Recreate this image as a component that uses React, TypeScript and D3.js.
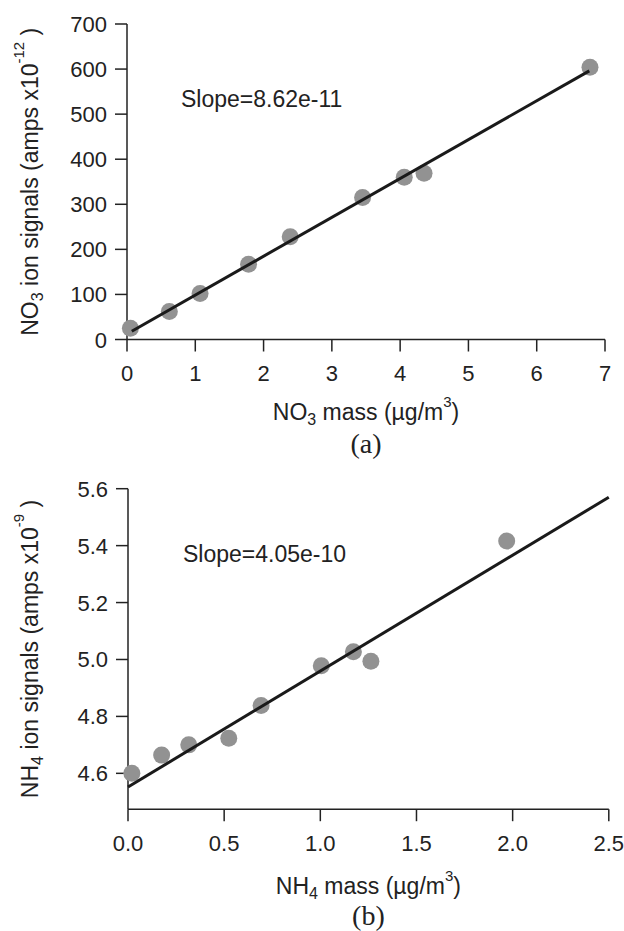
import React from "react";
import * as d3 from "d3";

// ---- Data ----
const no3Mass = [0.05, 0.62, 1.07, 1.78, 2.39, 3.45, 4.06, 4.35, 6.78];
const no3Signal = [25, 62, 102, 167, 228, 315, 360, 369, 604];
const no3FitX = [0.07, 6.77];
const no3FitY = [18.4, 596];
const no3XTicks = [0, 1, 2, 3, 4, 5, 6, 7];
const no3YTicks = [0, 100, 200, 300, 400, 500, 600, 700];
const no3Slope = "Slope=8.62e-11";

const nh4Mass = [0.02, 0.175, 0.316, 0.524, 0.692, 1.005, 1.172, 1.263, 1.969];
const nh4Signal = [4.6, 4.664, 4.7, 4.723, 4.838, 4.978, 5.027, 4.994, 5.416];
const nh4FitX = [0, 2.5];
const nh4FitY = [4.552, 5.57];
const nh4XTicks = [0, 0.5, 1.0, 1.5, 2.0, 2.5];
const nh4YTicks = [4.6, 4.8, 5.0, 5.2, 5.4, 5.6];
const nh4Slope = "Slope=4.05e-10";

const SANS = "'Liberation Sans', Arial, Helvetica, sans-serif";
const SERIF = "'Liberation Serif', 'Times New Roman', serif";
const AXIS = "#222";
const DOT = "#929292";

type PanelProps = {
  xs: number[];
  ys: number[];
  fitX: number[];
  fitY: number[];
  xTicks: number[];
  yTicks: number[];
  xDomain: [number, number];
  yDomain: [number, number];
  xRange: [number, number];
  yRange: [number, number];
  xFmt: (v: number) => string;
  yFmt: (v: number) => string;
  slope: string;
  slopePos: [number, number];
  ion: string;
  sup: string;
  xLabelY: number;
  panel: string;
  panelY: number;
  yLabelX: number;
};

function Panel(p: PanelProps) {
  const x = d3.scaleLinear().domain(p.xDomain).range(p.xRange);
  const y = d3.scaleLinear().domain(p.yDomain).range(p.yRange);
  const line = d3
    .line<number>()
    .x((_, i) => x(p.fitX[i]))
    .y((d) => y(d));
  const x0 = p.xRange[0];
  const y0 = p.yRange[0];
  const tick = 12;
  const yMid = (p.yRange[0] + p.yRange[1]) / 2;
  const xMid = (p.xRange[0] + p.xRange[1]) / 2;
  return (
    <g>
      {/* axes */}
      <line x1={x0} x2={x0} y1={p.yRange[1]} y2={y0} stroke={AXIS} strokeWidth={1.5} />
      <line x1={x0} x2={p.xRange[1]} y1={y0} y2={y0} stroke={AXIS} strokeWidth={1.5} />
      {p.yTicks.map((t) => (
        <g key={"y" + t}>
          <line x1={x0 - tick} x2={x0} y1={y(t)} y2={y(t)} stroke={AXIS} strokeWidth={1.5} />
          <text
            x={x0 - tick - 8}
            y={y(t) + 8}
            textAnchor="end"
            fontFamily={SANS}
            fontSize={22}
            fill="#222"
          >
            {p.yFmt(t)}
          </text>
        </g>
      ))}
      {p.xTicks.map((t) => (
        <g key={"x" + t}>
          <line x1={x(t)} x2={x(t)} y1={y0} y2={y0 + tick} stroke={AXIS} strokeWidth={1.5} />
          <text
            x={x(t)}
            y={y0 + 41.5}
            textAnchor="middle"
            fontFamily={SANS}
            fontSize={22}
            fill="#222"
          >
            {p.xFmt(t)}
          </text>
        </g>
      ))}
      {/* points */}
      {p.xs.map((v, i) => (
        <circle key={"c" + i} cx={x(v)} cy={y(p.ys[i])} r={8.5} fill={DOT} />
      ))}
      {/* fit line */}
      <path d={line(p.fitY) || ""} fill="none" stroke="#1a1a1a" strokeWidth={3} />
      {/* slope text */}
      <text x={p.slopePos[0]} y={p.slopePos[1]} fontFamily={SANS} fontSize={23} fill="#222">
        {p.slope}
      </text>
      {/* x label */}
      <text x={xMid} y={p.xLabelY} textAnchor="middle" fontFamily={SANS} fontSize={23} fill="#222">
        {p.ion}
        <tspan fontSize={16} dy={5}>
          {p.ion === "NO" ? "3" : "4"}
        </tspan>
        <tspan dy={-5}>{" mass (µg/m"}</tspan>
        <tspan fontSize={15} dy={-13}>
          3
        </tspan>
        <tspan dy={13}>)</tspan>
      </text>
      <text x={xMid} y={p.panelY} textAnchor="middle" fontFamily={SERIF} fontSize={28} fill="#222">
        {p.panel}
      </text>
      {/* y label */}
      <text
        transform={`translate(${p.yLabelX},${yMid}) rotate(-90)`}
        textAnchor="middle"
        fontFamily={SANS}
        fontSize={23}
        fill="#222"
      >
        {p.ion}
        <tspan fontSize={16} dy={5}>
          {p.ion === "NO" ? "3" : "4"}
        </tspan>
        <tspan dy={-5}>{" ion signals (amps x10"}</tspan>
        <tspan fontSize={15} dy={-14}>
          {p.sup}
        </tspan>
        <tspan dy={14}>{"  )"}</tspan>
      </text>
    </g>
  );
}

export default function App() {
  return (
    <svg
      width={624}
      height={931}
      style={{ position: "absolute", left: 0, top: 0, background: "#fff" }}
    >
      <rect width={624} height={931} fill="#fff" />
      <Panel
        xs={no3Mass}
        ys={no3Signal}
        fitX={no3FitX}
        fitY={no3FitY}
        xTicks={no3XTicks}
        yTicks={no3YTicks}
        xDomain={[0, 7]}
        yDomain={[0, 700]}
        xRange={[127, 605]}
        yRange={[339.5, 24]}
        xFmt={(v) => d3.format("d")(v)}
        yFmt={(v) => d3.format("d")(v)}
        slope={no3Slope}
        slopePos={[181, 106.5]}
        ion="NO"
        sup="-12"
        xLabelY={420}
        panel="(a)"
        panelY={453}
        yLabelX={38}
      />
      <Panel
        xs={nh4Mass}
        ys={nh4Signal}
        fitX={nh4FitX}
        fitY={nh4FitY}
        xTicks={nh4XTicks}
        yTicks={nh4YTicks}
        xDomain={[0, 2.5]}
        yDomain={[4.474, 5.6]}
        xRange={[128, 608.8]}
        yRange={[809.2, 488.7]}
        xFmt={(v) => d3.format(".1f")(v)}
        yFmt={(v) => d3.format(".1f")(v)}
        slope={nh4Slope}
        slopePos={[183, 562]}
        ion="NH"
        sup="-9"
        xLabelY={894}
        panel="(b)"
        panelY={925}
        yLabelX={38}
      />
    </svg>
  );
}
